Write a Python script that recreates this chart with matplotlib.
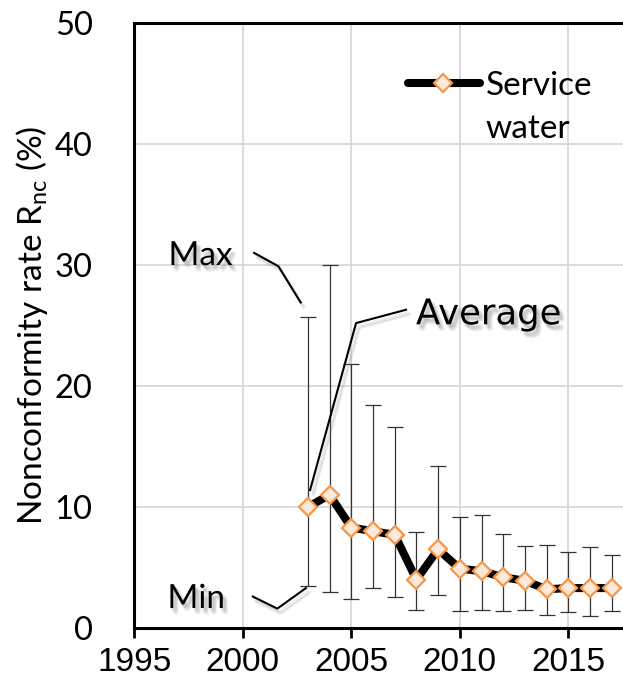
import matplotlib
matplotlib.use("Agg")
import matplotlib.pyplot as plt
import matplotlib.patheffects as pe
from matplotlib.lines import Line2D
import numpy as np

# Nonconformity rate of service water by year (%)
years = [2003, 2004, 2005, 2006, 2007, 2008, 2009, 2010, 2011, 2012,
         2013, 2014, 2015, 2016, 2017]
avg_rate = [10.0, 11.0, 8.3, 8.0, 7.7, 4.0, 6.5, 4.9, 4.7, 4.2,
            3.9, 3.2, 3.3, 3.3, 3.3]
max_rate = [25.7, 30.0, 21.8, 18.4, 16.6, 7.9, 13.4, 9.2, 9.3, 7.8,
            6.8, 6.9, 6.3, 6.7, 6.0]
min_rate = [3.5, 3.0, 2.4, 3.3, 2.6, 1.5, 2.7, 1.4, 1.5, 1.4,
            1.5, 1.1, 1.3, 1.0, 1.4]

x_ticks = [1995, 2000, 2005, 2010, 2015]
y_ticks = [0, 10, 20, 30, 40, 50]

# annotation leader lines (data coordinates)
max_leader_x = [2000.52, 2001.64, 2002.67]
max_leader_y = [31.0, 29.9, 26.9]
min_leader_x = [2000.46, 2001.59, 2002.91]
min_leader_y = [2.6, 1.6, 3.3]
avg_leader_x = [2003.10, 2005.22, 2007.52]
avg_leader_y = [11.4, 25.2, 26.3]

plt.rcParams["mathtext.fontset"] = "custom"
plt.rcParams["mathtext.rm"] = "Lato"
plt.rcParams["mathtext.it"] = "Lato:italic"

W, H = 623, 681
fig = plt.figure(figsize=(W / 100, H / 100), dpi=100)
left_px, right_px, top_px, bottom_px = 134.3, 623, 23, 628
ax = fig.add_axes([left_px / W, 1 - bottom_px / H,
                   (right_px - left_px) / W, (bottom_px - top_px) / H])

ax.set_xlim(1995, 1995 + (right_px - left_px) / 21.7)
ax.set_ylim(0, 50)

# grid
ax.set_axisbelow(True)
ax.grid(True, color="#d9d9d9", linewidth=1.3)

lat = dict(family=["Lato", "DejaVu Sans"])
narrow = ["Liberation Sans Narrow", "Liberation Sans", "DejaVu Sans"]

avg_arr = np.array(avg_rate)
yerr = [avg_arr - np.array(min_rate), np.array(max_rate) - avg_arr]
ax.errorbar(years, avg_rate, yerr=yerr, fmt="none", ecolor="#333333",
            elinewidth=0.9, capsize=5.8, capthick=0.9, zorder=2)
ax.plot(years, avg_rate, color="black", linewidth=5.8,
        solid_joinstyle="round", solid_capstyle="round",
        marker="D", markersize=9.5, markerfacecolor="#fde9d9",
        markeredgecolor="#f79646", markeredgewidth=1.6, zorder=3)

# soft shadow used for annotation text and leader lines
offsets = [(1, -2), (2, -3), (3, -3), (2, -4), (3, -2), (1, -3), (4, -4), (3, -5)]
shadow = [pe.SimplePatchShadow(offset=o, shadow_rgbFace="#7f7f7f", alpha=0.09)
          for o in offsets]
shadow.append(pe.Normal())
line_shadow = [pe.SimpleLineShadow(offset=o, shadow_color="#7f7f7f", alpha=0.10)
               for o in offsets[:4]]
line_shadow.append(pe.Normal())

for lx, ly in [(max_leader_x, max_leader_y), (min_leader_x, min_leader_y),
               (avg_leader_x, avg_leader_y)]:
    ax.plot(lx, ly, color="black", linewidth=1.5, zorder=4,
            path_effects=line_shadow)

ax.text(1998.05, 30.0, "Max", ha="center", va="baseline", fontsize=24,
        zorder=5, path_effects=shadow, **lat)
ax.text(1997.85, 1.65, "Min", ha="center", va="baseline", fontsize=24,
        zorder=5, path_effects=shadow, **lat)
ax.text(2007.98, 25.1, "Average", ha="left", va="baseline", fontsize=25.5,
        family="DejaVu Sans", zorder=5, path_effects=shadow)

# legend sample
leg_y = (bottom_px - 83) / (bottom_px - top_px)
ax.add_line(Line2D([0.560, 0.707], [leg_y, leg_y], transform=ax.transAxes,
                   color="black", linewidth=5.8, solid_capstyle="round"))
ax.add_line(Line2D([0.6316], [leg_y], transform=ax.transAxes,
                   marker="D", markersize=9.5, markerfacecolor="#fde9d9",
                   markeredgecolor="#f79646", markeredgewidth=1.6))
ax.text(0.7195, (bottom_px - 95) / (bottom_px - top_px), "Service",
        transform=ax.transAxes, ha="left", va="baseline", fontsize=24, **lat)
ax.text(0.7195, (bottom_px - 138) / (bottom_px - top_px), "water",
        transform=ax.transAxes, ha="left", va="baseline", fontsize=24, **lat)

# axes styling
ax.set_xticks(x_ticks)
ax.set_yticks(y_ticks)
ax.set_xticklabels([str(v) for v in x_ticks], fontsize=24, family=narrow)
ax.set_yticklabels([str(v) for v in y_ticks], fontsize=23.5, **lat)
ax.tick_params(axis="x", direction="out", length=7.5, width=2, pad=6)
ax.tick_params(axis="y", length=0, pad=30)

for side in ["left", "top", "bottom"]:
    ax.spines[side].set_linewidth(2.2)
    ax.spines[side].set_color("black")
ax.spines["right"].set_visible(False)

ax.set_ylabel("Nonconformity rate R$_{\\mathrm{nc}}$ (%)", fontsize=24, **lat)
ax.yaxis.set_label_coords(-0.1725, 0.5)

fig.savefig("out.png", dpi=100)
